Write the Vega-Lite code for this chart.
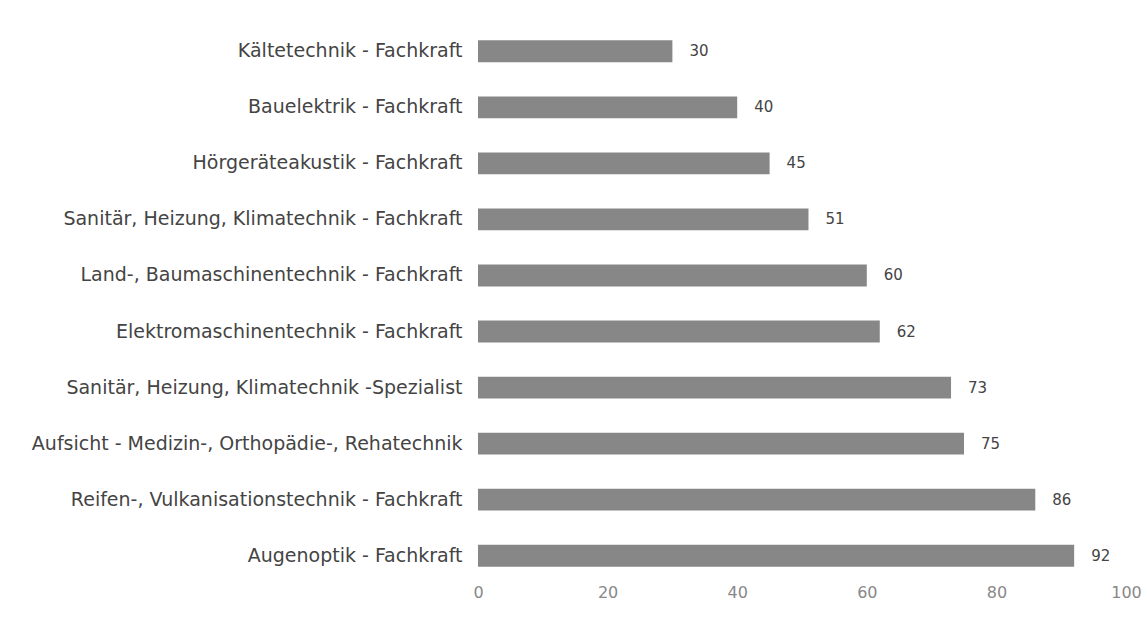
{
  "$schema": "https://vega.github.io/schema/vega-lite/v6.json",
  "width": 648,
  "height": 561,
  "autosize": {"type": "none"},
  "padding": {"left": 478, "top": 23, "right": 21, "bottom": 44},
  "background": "white",
  "config": {"view": {"stroke": null}, "font": "DejaVu Sans"},
  "data": {"values": [
    {"label": "Kältetechnik - Fachkraft", "value": 30},
    {"label": "Bauelektrik - Fachkraft", "value": 40},
    {"label": "Hörgeräteakustik - Fachkraft", "value": 45},
    {"label": "Sanitär, Heizung, Klimatechnik - Fachkraft", "value": 51},
    {"label": "Land-, Baumaschinentechnik - Fachkraft", "value": 60},
    {"label": "Elektromaschinentechnik - Fachkraft", "value": 62},
    {"label": "Sanitär, Heizung, Klimatechnik -Spezialist", "value": 73},
    {"label": "Aufsicht - Medizin-, Orthopädie-, Rehatechnik", "value": 75},
    {"label": "Reifen-, Vulkanisationstechnik - Fachkraft", "value": 86},
    {"label": "Augenoptik - Fachkraft", "value": 92}
  ]},
  "encoding": {
    "y": {"field": "label", "type": "nominal", "sort": null,
      "scale": {"paddingInner": 0.61, "paddingOuter": 0.31},
      "axis": {"title": null, "domain": false, "ticks": false, "labelPadding": 16, "labelFontSize": 19, "labelColor": "#444444", "labelFont": "DejaVu Sans", "labelLimit": 500}},
    "x": {"field": "value", "type": "quantitative",
      "scale": {"domain": [0, 100], "nice": false},
      "axis": {"title": null, "domain": false, "ticks": false, "grid": false, "values": [0, 20, 40, 60, 80, 100], "labelPadding": 0, "labelFlush": false, "labelFontSize": 16, "labelColor": "#888888", "labelBaseline": "top"}}
  },
  "layer": [
    {"mark": {"type": "bar", "color": "#878787"}},
    {"mark": {"type": "text", "align": "left", "dx": 17, "fontSize": 15, "color": "#444444", "baseline": "middle"},
     "encoding": {"text": {"field": "value", "type": "quantitative"}}}
  ]
}
